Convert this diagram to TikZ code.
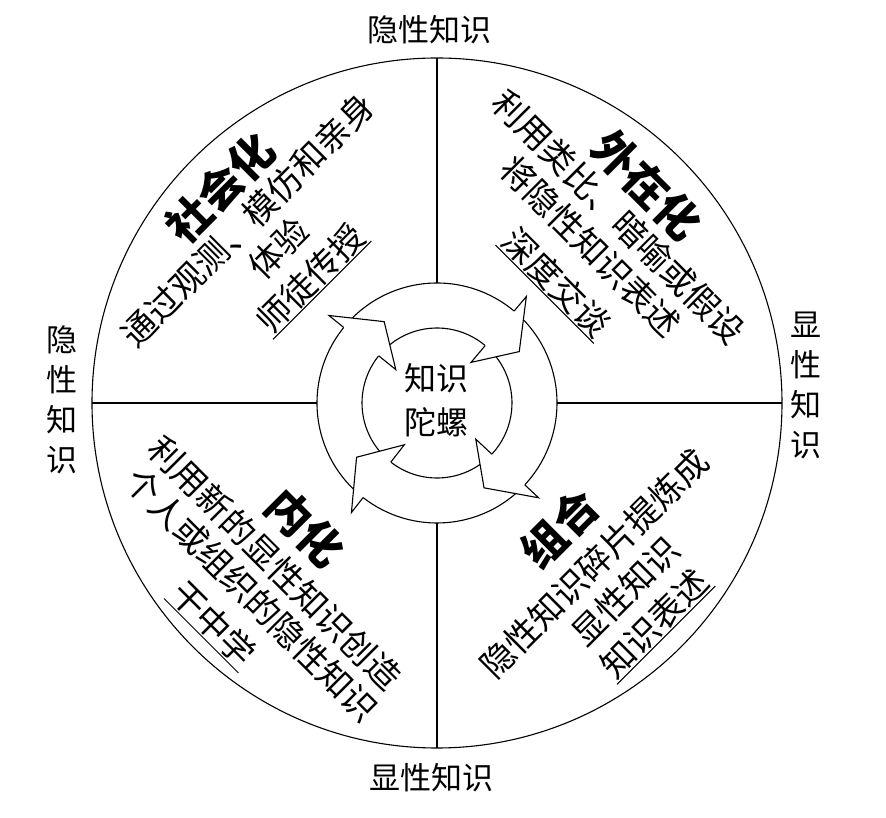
\documentclass[tikz,border=0pt]{standalone}
\usepackage{fontspec}
\setmainfont{Noto Sans CJK SC}
\begin{document}
\begin{tikzpicture}[x=1pt,y=1pt,line width=1.1pt,
  body/.style={font=\fontsize{34}{40}\selectfont, inner sep=1pt},
  ttl/.style={font=\fontsize{44}{50}\selectfont\bfseries, inner sep=1pt},
  lab/.style={font=\fontsize{31}{40}\selectfont, inner sep=0pt, align=center},
  ctr/.style={font=\fontsize{32}{44}\selectfont, inner sep=0pt, align=center},
  ul/.style={line width=1pt}]
\useasboundingbox (-437,-415) rectangle (449,403);
% outer circle and axes
\draw (0,0) circle[radius=345];
\coordinate (ot) at (0,345); \coordinate (it) at (0,120);
\coordinate (ob) at (0,-345); \coordinate (ib) at (0,-120);
\coordinate (ol) at (-345,0); \coordinate (il) at (-120,0);
\coordinate (or) at (345,0); \coordinate (ir) at (120,0);
\draw (ot) -- (it); \draw (ob) -- (ib); \draw (ol) -- (il); \draw (or) -- (ir);
% circular arrows: bands
\foreach \a/\b in {141/50, 50/-43, -43/-128, -128/-219} {
  \draw (\a:120) arc[start angle=\a, end angle=\b, radius=120];
  \draw (\a:75) arc[start angle=\a, end angle=\b, radius=75];
}
% heads
\foreach \b in {50,-43,-128,-219} {
  \path[draw, fill=white] (\b:120) -- (\b:139) -- ({\b-18}:97) -- (\b:53) -- (\b:75);
}
% centre text
\node[ctr] (core) at (0,3) {知识\\陀螺};
% outer labels
\node[lab] (ltop) at (-7,373) {隐性知识};
\node[lab] (lbot) at (-5,-375) {显性知识};
\node[lab] (lleft) at (-375,3) {隐\\性\\知\\识};
\node[lab] (lright) at (369,18) {显\\性\\知\\识};
% top-left quadrant
\node[ttl, rotate=45] (s0) at (-217,215) {社会化};
\node[body, rotate=45] (s1) at (-189,183) {通过观测、模仿和亲身};
\node[body, rotate=45] (s2) at (-159,155) {体验};
\node[body, rotate=45] (s3) at (-127,125) {师徒传授};
\draw[ul] (s3.south west) -- (s3.south east);
% top-right quadrant
\node[ttl, rotate=-45] (e0) at (210,218) {外在化};
\node[body, rotate=-45] (e1) at (181.5,186) {利用类比、暗喻或假设};
\node[body, rotate=-45] (e2) at (153.5,156.5) {将隐性知识表述};
\node[body, rotate=-45] (e3) at (120,121) {深度交谈};
\draw[ul] (e3.south west) -- (e3.south east);
% bottom-left quadrant
\node[ttl, rotate=-45] (i0) at (-132,-125) {内化};
\node[body, rotate=-45] (i1) at (-162,-160) {利用新的显性知识创造};
\node[body, rotate=-45] (i2) at (-185.5,-192) {个人或组织的隐性知识};
\node[body, rotate=-45] (i3) at (-223.5,-220.5) {干中学};
\draw[ul] (i3.south west) -- (i3.south east);
% bottom-right quadrant
\node[ttl, rotate=45] (c0) at (123,-125.5) {组合};
\node[body, rotate=45] (c1) at (157.5,-160.5) {隐性知识碎片提炼成};
\node[body, rotate=45] (c2) at (188.5,-188.5) {显性知识};
\node[body, rotate=45] (c3) at (217,-220) {知识表述};
\draw[ul] (c3.south west) -- (c3.south east);
\end{tikzpicture}
\end{document}
